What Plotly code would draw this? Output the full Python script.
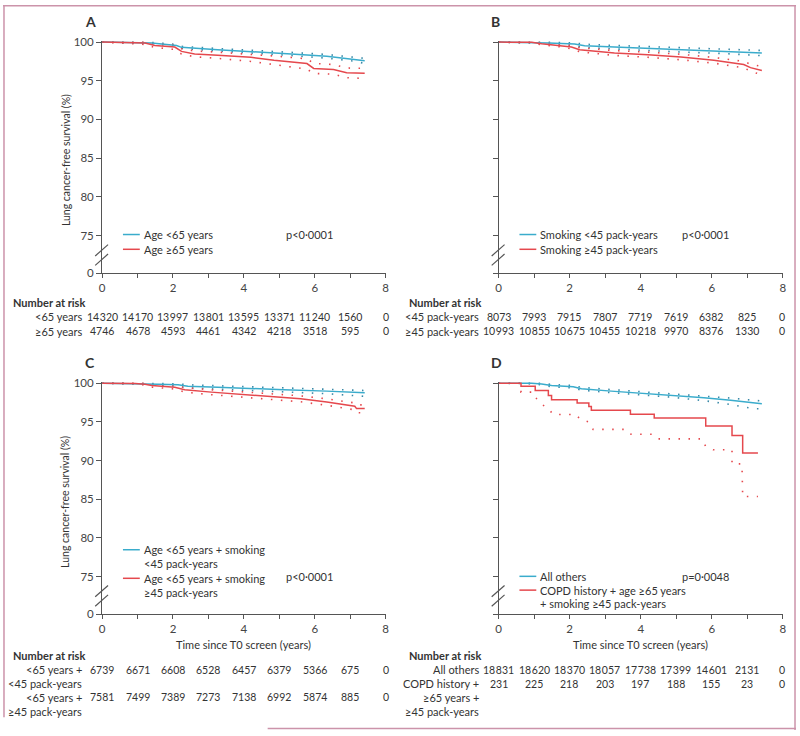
import plotly.graph_objects as go

# ---------------- DATA ----------------
# Panel A: age
A_t_young = [0, 0.93, 1.4, 2.1, 2.24, 3.26, 4.2, 5.22, 6.34, 7.09, 7.41]
A_s_young = [100, 99.95, 99.87, 99.57, 99.32, 99.02, 98.8, 98.5, 98.17, 97.83, 97.6]
A_hi_young = [100, 100, 99.95, 99.7, 99.45, 99.17, 98.97, 98.7, 98.4, 98.08, 97.9]
A_lo_young = [100, 99.88, 99.78, 99.45, 99.18, 98.86, 98.62, 98.3, 97.93, 97.55, 97.25]
A_t_old = [0, 0.56, 1.21, 1.49, 2.05, 2.24, 2.61, 3.26, 4.2, 4.85, 5.78, 5.97, 6.53, 6.9, 7.41]
A_s_old = [100, 99.98, 99.87, 99.57, 99.36, 98.8, 98.47, 98.3, 98.04, 97.66, 97.23, 96.6, 96.47, 96.04, 95.96]
A_hi_old = [100, 100, 99.98, 99.8, 99.65, 99.15, 98.85, 98.7, 98.45, 98.2, 97.85, 97.25, 97.1, 96.65, 96.6]
A_lo_old = [100, 99.9, 99.7, 99.3, 99.05, 98.45, 98.1, 97.9, 97.5, 97.1, 96.5, 95.95, 95.85, 95.4, 95.3]

# Panel B: smoking pack-years
B_t_low = [0, 0.93, 1.4, 2.14, 2.42, 3.26, 4.2, 5.13, 6.34, 7.41]
B_s_low = [100, 99.97, 99.87, 99.74, 99.53, 99.36, 99.19, 99.02, 98.85, 98.6]
B_hi_low = [100, 100, 99.97, 99.9, 99.72, 99.57, 99.42, 99.28, 99.14, 98.92]
B_lo_low = [100, 99.9, 99.75, 99.55, 99.3, 99.1, 98.92, 98.72, 98.52, 98.25]
B_t_high = [0, 0.93, 1.21, 1.86, 2.05, 2.28, 2.8, 3.26, 4.2, 5.13, 6.06, 6.9, 7.09, 7.41]
B_s_high = [100, 99.97, 99.79, 99.53, 99.36, 99.02, 98.8, 98.6, 98.38, 98.09, 97.66, 97.1, 96.7, 96.34]
B_hi_high = [100, 100, 99.93, 99.72, 99.58, 99.27, 99.08, 98.9, 98.7, 98.43, 98.02, 97.5, 97.15, 96.85]
B_lo_high = [100, 99.9, 99.65, 99.32, 99.12, 98.75, 98.5, 98.28, 98.04, 97.72, 97.28, 96.68, 96.25, 95.75]

# Panel C: age <65 by smoking
C_t_low = [0, 1.21, 1.59, 2.14, 2.42, 3.26, 4.2, 5.13, 6.34, 7.41]
C_s_low = [100, 99.97, 99.87, 99.79, 99.62, 99.49, 99.28, 99.15, 98.98, 98.77]
C_hi_low = [100, 100, 99.98, 99.93, 99.8, 99.68, 99.5, 99.38, 99.22, 99.06]
C_lo_low = [100, 99.9, 99.72, 99.6, 99.4, 99.25, 99.02, 98.86, 98.65, 98.3]
C_t_high = [0, 0.93, 1.21, 1.4, 2.05, 2.33, 3.08, 4.0, 4.85, 5.6, 6.34, 6.9, 7.13, 7.18, 7.41]
C_s_high = [100, 99.98, 99.87, 99.7, 99.49, 99.15, 98.85, 98.55, 98.3, 98.0, 97.57, 97.15, 97.02, 96.72, 96.72]
C_hi_high = [100, 100, 99.98, 99.88, 99.72, 99.45, 99.15, 98.88, 98.65, 98.37, 97.98, 97.58, 97.45, 97.2, 97.2]
C_lo_high = [100, 99.92, 99.75, 99.5, 99.25, 98.85, 98.52, 98.2, 97.92, 97.6, 97.15, 96.7, 96.55, 96.2, 96.17]

# Panel D: COPD + age>=65 + >=45 pack-years vs all others
D_t_other = [0, 0.93, 1.21, 1.49, 2.1, 2.33, 3.17, 4.0, 4.85, 5.78, 6.53, 7.18, 7.41]
D_s_other = [100, 100, 99.9, 99.7, 99.55, 99.28, 98.98, 98.72, 98.43, 98.12, 97.8, 97.48, 97.36]
D_hi_other = [100, 100, 99.98, 99.85, 99.72, 99.46, 99.18, 98.93, 98.66, 98.38, 98.08, 97.8, 97.7]
D_lo_other = [100, 99.95, 99.8, 99.55, 99.38, 99.1, 98.78, 98.5, 98.2, 97.75, 97.25, 96.7, 96.7]
D_t_copd = [0, 0.63, 1.03, 1.40, 1.49, 2.21, 2.54, 2.61, 3.71, 4.38, 5.83, 6.57, 6.87, 7.30]
D_s_copd = [100, 99.6, 99.07, 98.4, 97.87, 97.45, 97.0, 96.5, 96.0, 95.5, 94.47, 93.23, 90.97, 90.97]
D_tlo_copd = [0, 0.63, 0.63, 0.98, 1.07, 1.21, 1.40, 1.54, 2.19, 2.28, 2.54, 2.66, 3.59, 3.73,
              4.34, 4.5, 5.73, 5.83, 6.04, 6.57, 6.57, 6.85, 6.87, 7.30]
D_lo_copd = [100, 100, 98.85, 98.85, 98.0, 97.3, 96.7, 95.95, 95.95, 95.4, 95.0, 94.04, 94.04, 93.4,
             93.4, 92.8, 92.8, 91.8, 91.4, 91.4, 89.57, 89.57, 85.35, 85.35]

# Number at risk
risk_years = [0, 1, 2, 3, 4, 5, 6, 7, 8]
A_risk_young = [14320, 14170, 13997, 13801, 13595, 13371, 11240, 1560, 0]
A_risk_old = [4746, 4678, 4593, 4461, 4342, 4218, 3518, 595, 0]
B_risk_low = [8073, 7993, 7915, 7807, 7719, 7619, 6382, 825, 0]
B_risk_high = [10993, 10855, 10675, 10455, 10218, 9970, 8376, 1330, 0]
C_risk_low = [6739, 6671, 6608, 6528, 6457, 6379, 5366, 675, 0]
C_risk_high = [7581, 7499, 7389, 7273, 7138, 6992, 5874, 885, 0]
D_risk_other = [18831, 18620, 18370, 18057, 17738, 17399, 14601, 2131, 0]
D_risk_copd = [231, 225, 218, 203, 197, 188, 155, 23, 0]

y_tickvals = [70.12, 75, 80, 85, 90, 95, 100]
y_ticktext = ["0", "75", "80", "85", "90", "95", "100"]
x_tickvals = [0, 1, 2, 3, 4, 5, 6, 7, 8]
x_ticktext = ["0", "", "2", "", "4", "", "6", "", "8"]

# ---------------- STYLE ----------------
W, H = 800, 736
FONT = "Lato"
TXT = "#333333"
AX = "#555555"
BLUE = "#3aaccc"
BLUE_DOT = "#3a8aa8"
RED = "#e5484d"
DOTS = "1.5px,8.5px"
FS = 11


def fx(x):
    return x / W


def fy(y):
    return 1 - y / H


def fmt(n):
    return f"{n:,}".replace(",", "\u200a") if n >= 10000 else str(n)


fig = go.Figure()

# panel geometry in pixels: (x0, x8, y_top, y_bottom)
panels = {
    "A": (100, 386, 36.1, 272.3),
    "B": (500, 786.7, 36.1, 272.3),
    "C": (100, 386, 382.4, 618.6),
    "D": (500, 786.7, 382.4, 618.6),
}
order = ["A", "B", "C", "D"]
layout_axes = {}
for i, k in enumerate(order):
    x0, x8, yt, yb = panels[k]
    n = "" if i == 0 else str(i + 1)
    layout_axes["xaxis" + n] = dict(
        domain=[fx(x0), fx(x8)], range=[0, 8], anchor="y" + n,
        tickvals=x_tickvals, ticktext=x_ticktext, ticks="outside", ticklen=4,
        tickcolor=AX, tickwidth=1.2, showline=True, linecolor=AX, linewidth=1.2,
        showgrid=False, zeroline=False, fixedrange=True,
        tickfont=dict(family=FONT, size=11.5, color="#444"),
    )
    layout_axes["yaxis" + n] = dict(
        domain=[fy(yb), fy(yt)], range=[70.12, 100.2], anchor="x" + n,
        tickvals=y_tickvals, ticktext=y_ticktext, ticks="outside", ticklen=5,
        tickcolor=AX, tickwidth=1.2, showline=True, linecolor=AX, linewidth=1.2,
        showgrid=False, zeroline=False, showticklabels=k in ("A", "C"), fixedrange=True,
        tickfont=dict(family=FONT, size=11.5, color="#444"),
    )


def add_curve(ax, t, s, color, width=1.5, dash=None, shape="linear"):
    n = "" if ax == 1 else str(ax)
    fig.add_trace(go.Scatter(
        x=t, y=s, mode="lines", xaxis="x" + n, yaxis="y" + n,
        line=dict(color=color, width=width, dash=dash, shape=shape),
        showlegend=False, hoverinfo="skip"))


# CI dotted lines first, then estimates
add_curve(1, A_t_young, A_hi_young, BLUE_DOT, 1.6, DOTS)
add_curve(1, A_t_young, A_lo_young, BLUE_DOT, 1.6, DOTS)
add_curve(1, A_t_old, A_hi_old, RED, 1.6, DOTS)
add_curve(1, A_t_old, A_lo_old, RED, 1.6, DOTS)
add_curve(1, A_t_young, A_s_young, BLUE)
add_curve(1, A_t_old, A_s_old, RED)

add_curve(2, B_t_low, B_hi_low, BLUE_DOT, 1.6, DOTS)
add_curve(2, B_t_low, B_lo_low, BLUE_DOT, 1.6, DOTS)
add_curve(2, B_t_high, B_hi_high, RED, 1.6, DOTS)
add_curve(2, B_t_high, B_lo_high, RED, 1.6, DOTS)
add_curve(2, B_t_low, B_s_low, BLUE)
add_curve(2, B_t_high, B_s_high, RED)

add_curve(3, C_t_low, C_hi_low, BLUE_DOT, 1.6, DOTS)
add_curve(3, C_t_low, C_lo_low, BLUE_DOT, 1.6, DOTS)
add_curve(3, C_t_high, C_hi_high, RED, 1.6, DOTS)
add_curve(3, C_t_high, C_lo_high, RED, 1.6, DOTS)
add_curve(3, C_t_low, C_s_low, BLUE)
add_curve(3, C_t_high, C_s_high, RED)

add_curve(4, D_t_other, D_hi_other, BLUE_DOT, 1.6, DOTS)
add_curve(4, D_t_other, D_lo_other, BLUE_DOT, 1.6, DOTS)
add_curve(4, D_tlo_copd, D_lo_copd, RED, 1.6, DOTS)
add_curve(4, D_t_other, D_s_other, BLUE)
add_curve(4, D_t_copd, D_s_copd, RED, shape="hv")

annotations = []
shapes = []


def text(x, y, s, size=FS, anchor="left", bold=False, angle=0, color=TXT):
    if bold:
        s = "<b>" + s + "</b>"
    annotations.append(dict(
        x=fx(x), y=fy(y), xref="paper", yref="paper", text=s, showarrow=False,
        xanchor=anchor, yanchor="middle", textangle=angle, borderpad=0,
        font=dict(family=FONT, size=size, color=color)))


def line(x0, y0, x1, y1, color, width=1.5):
    shapes.append(dict(type="line", xref="paper", yref="paper",
                       x0=fx(x0), y0=fy(y0), x1=fx(x1), y1=fy(y1),
                       line=dict(color=color, width=width)))


# panel letters
text(82, 17, "A", 14, bold=True)
text(491, 17, "B", 14, bold=True)
text(82, 363, "C", 14, bold=True)
text(491, 363, "D", 14, bold=True)

# y-axis titles
text(63, 157, "Lung cancer-free survival (%)", 10.5, anchor="center", angle=-90)
text(63, 504, "Lung cancer-free survival (%)", 10.5, anchor="center", angle=-90)

# x-axis titles
text(243, 649, "Time since T0 screen (years)", 11, anchor="center")
text(643, 649, "Time since T0 screen (years)", 11, anchor="center")

# axis break marks
for ox, y0 in ((100, 272.3), (500, 272.3), (100, 618.3), (500, 618.3)):
    line(ox - 7, y0 - 17.5, ox + 6, y0 - 29, AX, 1.2)
    line(ox - 7, y0 - 8, ox + 6, y0 - 19.5, AX, 1.2)


# legends
def legend(ox, entries, p_text, p_y):
    for (ly, color, lines) in entries:
        line(ox + 21, ly, ox + 38, ly, color, 1.5)
        for j, s in enumerate(lines):
            text(ox + 41, ly + 14 * j, s)
    text(ox + 184, p_y, p_text)


legend(100, [(233, BLUE, ["Age <65 years"]), (248, RED, ["Age ≥65 years"])], "p<0·0001", 233)
legend(500, [(233, BLUE, ["Smoking <45 pack-years"]), (248, RED, ["Smoking ≥45 pack-years"])], "p<0·0001", 233)
legend(100, [(553, BLUE, ["Age <65 years + smoking", "<45 pack-years"]),
             (582, RED, ["Age <65 years + smoking", "≥45 pack-years"])], "p<0·0001", 580)
legend(500, [(580, BLUE, ["All others"]),
             (594, RED, ["COPD history + age ≥65 years", "+ smoking ≥45 pack-years"])], "p=0·0048", 580)


# number at risk tables
def risk_table(ox, title_y, rows):
    text(ox - 91, title_y, "Number at risk", 11, bold=True)
    for (ry, labels, vals) in rows:
        for j, lab in enumerate(labels):
            text(ox - 19, ry + 14 * j, lab, anchor="right")
        for yr, v in zip(risk_years, vals):
            text(ox + yr * (286 / 8), ry, fmt(v), 10.5, anchor="center")


risk_table(100, 302, [(316.7, ["<65 years"], A_risk_young), (331, ["≥65 years"], A_risk_old)])
risk_table(500, 302, [(316.7, ["<45 pack-years"], B_risk_low), (331, ["≥45 pack-years"], B_risk_high)])
risk_table(100, 660, [(675, ["<65 years +", "<45 pack-years"], C_risk_low),
                      (703, ["<65 years +", "≥45 pack-years"], C_risk_high)])
risk_table(500, 660, [(675, ["All others"], D_risk_other),
                      (689, ["COPD history +", "≥65 years +", "≥45 pack-years"], D_risk_copd)])

# page frame
FRAME = "#cc93aa"
line(1, 0, 1, 723, FRAME, 1.5)
line(0, 0.8, 800, 0.8, FRAME, 1.5)
line(799, 0, 799, 736, FRAME, 1.5)
line(267, 734.5, 800, 734.5, FRAME, 1.5)

fig.update_layout(
    width=W, height=H, margin=dict(l=0, r=0, t=0, b=0),
    paper_bgcolor="white", plot_bgcolor="white",
    showlegend=False, annotations=annotations, shapes=shapes,
    font=dict(family=FONT, color=TXT),
    **layout_axes,
)

fig.write_html(
    "out.html",
    config={"displayModeBar": False},
    post_script="document.body.style.margin='0';document.body.style.padding='0';"
                "document.body.style.overflow='hidden';",
)
